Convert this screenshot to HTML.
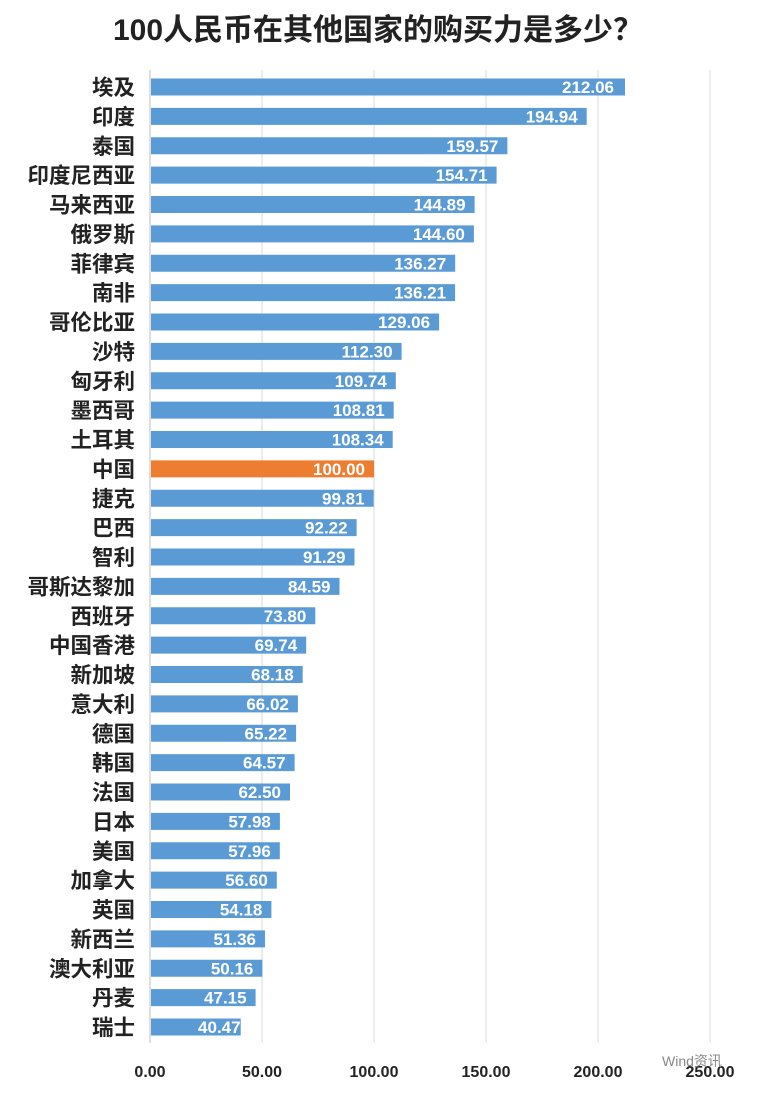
<!DOCTYPE html>
<html><head><meta charset="utf-8"><style>
body{margin:0;background:#fff;}
svg{display:block;}
.b{fill:#5b9bd5}.o{fill:#ed7d31}
.v{font-size:17px;font-weight:bold;fill:#fff;text-anchor:end}
.l{font-size:21.5px;font-weight:bold;fill:#222;text-anchor:end}
</style></head><body>
<svg width="766" height="1094" xmlns="http://www.w3.org/2000/svg" font-family="'Liberation Sans','Noto Sans CJK SC',sans-serif">
<rect width="766" height="1094" fill="#fff"/>
<text x="378" y="40" text-anchor="middle" font-size="30" font-weight="bold" fill="#222">100人民币在其他国家的购买力是多少？</text>
<g stroke="#d9d9d9" stroke-width="1">
<line x1="262" y1="70" x2="262" y2="1043"/>
<line x1="374" y1="70" x2="374" y2="1043"/>
<line x1="486" y1="70" x2="486" y2="1043"/>
<line x1="598" y1="70" x2="598" y2="1043"/>
<line x1="710" y1="70" x2="710" y2="1043"/>
</g>
<line x1="150" y1="70" x2="150" y2="1043" stroke="#bfbfbf"/>

<g transform="translate(0,87)"><rect class="b" x="151" y="-8.5" width="474" height="17"/><text class="v" x="614" y="6">212.06</text><text class="l" x="135" y="8">埃及</text></g>
<g transform="translate(0,116.38)"><rect class="b" x="151" y="-8.5" width="435.7" height="17"/><text class="v" x="577.7" y="6">194.94</text><text class="l" x="135" y="8">印度</text></g>
<g transform="translate(0,145.75)"><rect class="b" x="151" y="-8.5" width="356.4" height="17"/><text class="v" x="498.4" y="6">159.57</text><text class="l" x="135" y="8">泰国</text></g>
<g transform="translate(0,175.13)"><rect class="b" x="151" y="-8.5" width="345.6" height="17"/><text class="v" x="487.6" y="6">154.71</text><text class="l" x="135" y="8">印度尼西亚</text></g>
<g transform="translate(0,204.5)"><rect class="b" x="151" y="-8.5" width="323.6" height="17"/><text class="v" x="465.6" y="6">144.89</text><text class="l" x="135" y="8">马来西亚</text></g>
<g transform="translate(0,233.88)"><rect class="b" x="151" y="-8.5" width="322.9" height="17"/><text class="v" x="464.9" y="6">144.60</text><text class="l" x="135" y="8">俄罗斯</text></g>
<g transform="translate(0,263.25)"><rect class="b" x="151" y="-8.5" width="304.2" height="17"/><text class="v" x="446.2" y="6">136.27</text><text class="l" x="135" y="8">菲律宾</text></g>
<g transform="translate(0,292.63)"><rect class="b" x="151" y="-8.5" width="304.1" height="17"/><text class="v" x="446.1" y="6">136.21</text><text class="l" x="135" y="8">南非</text></g>
<g transform="translate(0,322)"><rect class="b" x="151" y="-8.5" width="288.1" height="17"/><text class="v" x="430.1" y="6">129.06</text><text class="l" x="135" y="8">哥伦比亚</text></g>
<g transform="translate(0,351.38)"><rect class="b" x="151" y="-8.5" width="250.6" height="17"/><text class="v" x="392.6" y="6">112.30</text><text class="l" x="135" y="8">沙特</text></g>
<g transform="translate(0,380.75)"><rect class="b" x="151" y="-8.5" width="244.8" height="17"/><text class="v" x="386.8" y="6">109.74</text><text class="l" x="135" y="8">匈牙利</text></g>
<g transform="translate(0,410.13)"><rect class="b" x="151" y="-8.5" width="242.7" height="17"/><text class="v" x="384.7" y="6">108.81</text><text class="l" x="135" y="8">墨西哥</text></g>
<g transform="translate(0,439.5)"><rect class="b" x="151" y="-8.5" width="241.7" height="17"/><text class="v" x="383.7" y="6">108.34</text><text class="l" x="135" y="8">土耳其</text></g>
<g transform="translate(0,468.88)"><rect class="o" x="151" y="-8.5" width="223" height="17"/><text class="v" x="365" y="6">100.00</text><text class="l" x="135" y="8">中国</text></g>
<g transform="translate(0,498.25)"><rect class="b" x="151" y="-8.5" width="222.6" height="17"/><text class="v" x="364.6" y="6">99.81</text><text class="l" x="135" y="8">捷克</text></g>
<g transform="translate(0,527.63)"><rect class="b" x="151" y="-8.5" width="205.6" height="17"/><text class="v" x="347.6" y="6">92.22</text><text class="l" x="135" y="8">巴西</text></g>
<g transform="translate(0,557)"><rect class="b" x="151" y="-8.5" width="203.5" height="17"/><text class="v" x="345.5" y="6">91.29</text><text class="l" x="135" y="8">智利</text></g>
<g transform="translate(0,586.38)"><rect class="b" x="151" y="-8.5" width="188.5" height="17"/><text class="v" x="330.5" y="6">84.59</text><text class="l" x="135" y="8">哥斯达黎加</text></g>
<g transform="translate(0,615.75)"><rect class="b" x="151" y="-8.5" width="164.3" height="17"/><text class="v" x="306.3" y="6">73.80</text><text class="l" x="135" y="8">西班牙</text></g>
<g transform="translate(0,645.13)"><rect class="b" x="151" y="-8.5" width="155.2" height="17"/><text class="v" x="297.2" y="6">69.74</text><text class="l" x="135" y="8">中国香港</text></g>
<g transform="translate(0,674.5)"><rect class="b" x="151" y="-8.5" width="151.7" height="17"/><text class="v" x="293.7" y="6">68.18</text><text class="l" x="135" y="8">新加坡</text></g>
<g transform="translate(0,703.88)"><rect class="b" x="151" y="-8.5" width="146.9" height="17"/><text class="v" x="288.9" y="6">66.02</text><text class="l" x="135" y="8">意大利</text></g>
<g transform="translate(0,733.25)"><rect class="b" x="151" y="-8.5" width="145.1" height="17"/><text class="v" x="287.1" y="6">65.22</text><text class="l" x="135" y="8">德国</text></g>
<g transform="translate(0,762.63)"><rect class="b" x="151" y="-8.5" width="143.6" height="17"/><text class="v" x="285.6" y="6">64.57</text><text class="l" x="135" y="8">韩国</text></g>
<g transform="translate(0,792)"><rect class="b" x="151" y="-8.5" width="139" height="17"/><text class="v" x="281" y="6">62.50</text><text class="l" x="135" y="8">法国</text></g>
<g transform="translate(0,821.38)"><rect class="b" x="151" y="-8.5" width="128.9" height="17"/><text class="v" x="270.9" y="6">57.98</text><text class="l" x="135" y="8">日本</text></g>
<g transform="translate(0,850.75)"><rect class="b" x="151" y="-8.5" width="128.8" height="17"/><text class="v" x="270.8" y="6">57.96</text><text class="l" x="135" y="8">美国</text></g>
<g transform="translate(0,880.13)"><rect class="b" x="151" y="-8.5" width="125.8" height="17"/><text class="v" x="267.8" y="6">56.60</text><text class="l" x="135" y="8">加拿大</text></g>
<g transform="translate(0,909.5)"><rect class="b" x="151" y="-8.5" width="120.4" height="17"/><text class="v" x="262.4" y="6">54.18</text><text class="l" x="135" y="8">英国</text></g>
<g transform="translate(0,938.88)"><rect class="b" x="151" y="-8.5" width="114" height="17"/><text class="v" x="256" y="6">51.36</text><text class="l" x="135" y="8">新西兰</text></g>
<g transform="translate(0,968.25)"><rect class="b" x="151" y="-8.5" width="111.4" height="17"/><text class="v" x="253.4" y="6">50.16</text><text class="l" x="135" y="8">澳大利亚</text></g>
<g transform="translate(0,997.63)"><rect class="b" x="151" y="-8.5" width="104.6" height="17"/><text class="v" x="246.6" y="6">47.15</text><text class="l" x="135" y="8">丹麦</text></g>
<g transform="translate(0,1027)"><rect class="b" x="151" y="-8.5" width="89.7" height="17"/><text class="v" x="240.6" y="6">40.47</text><text class="l" x="135" y="8">瑞士</text></g>

<g font-size="16" font-weight="bold" fill="#222" text-anchor="middle">
<text x="150" y="1077">0.00</text><text x="262" y="1077">50.00</text><text x="374" y="1077">100.00</text><text x="486" y="1077">150.00</text><text x="598" y="1077">200.00</text><text x="710" y="1077">250.00</text>
</g>
<text x="662" y="1066" font-size="14" fill="#888">Wind资讯</text>
</svg>
</body></html>
